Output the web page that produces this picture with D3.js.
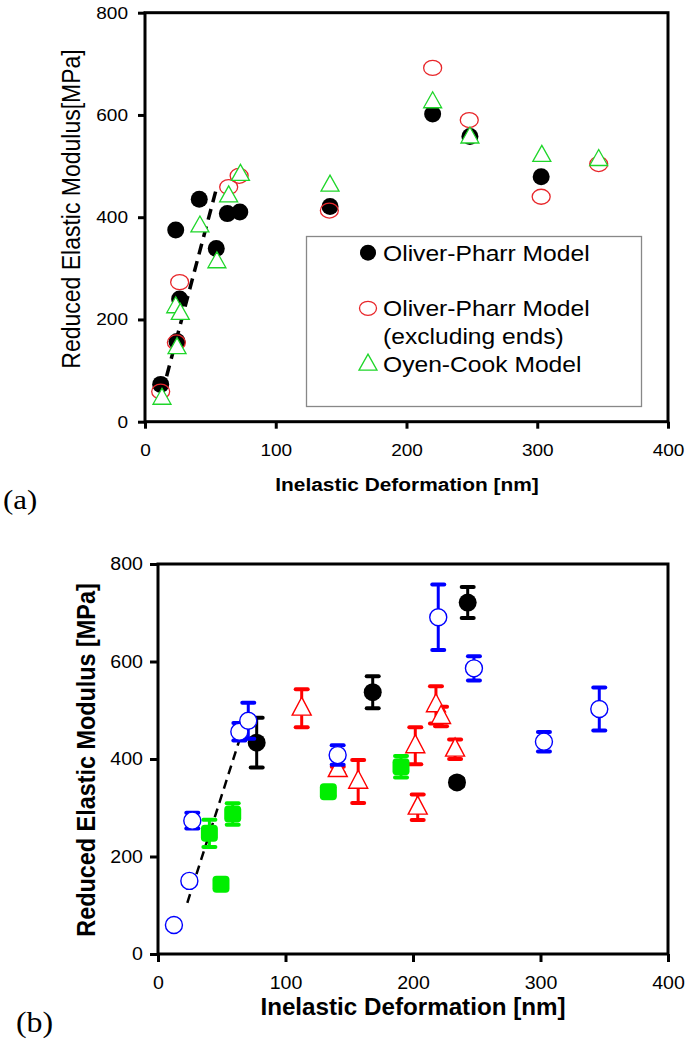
<!DOCTYPE html>
<html>
<head>
<meta charset="utf-8">
<script src="https://cdn.jsdelivr.net/npm/d3@7"></script>
<style>
  body { margin: 0; background: #fff; }
  svg text { font-family: "Liberation Sans", Arial, sans-serif; }
</style>
</head>
<body>
<svg width="687" height="1057"></svg>
<script>
// ---- panel (a) ----
const opX = [12, 23.5, 24.5, 26.5, 41.5, 54.5, 63, 72.5, 141.5, 220, 248.5, 303]
const opY = [73, 375, 157, 240, 435, 339, 407, 410, 421, 602, 558, 479]
const opExX = [12, 24, 26.5, 64, 72, 141, 220, 248, 303, 347]
const opExY = [59, 155, 273, 459, 481, 413, 692, 590, 440, 504]
const ocX = [13, 24.5, 23.5, 27, 42, 55, 64, 73, 141.5, 220, 248.5, 303.5, 347]
const ocY = [46, 145, 225, 212, 383, 313, 442, 484, 463, 626, 557, 521, 513]
const fitA = [[13, 55], [54, 450]]
const legendLabels = [['Oliver-Pharr Model'], ['Oliver-Pharr Model', '(excluding ends)'], ['Oyen-Cook Model']]

// ---- panel (b) ----
const blueX = [12.5, 24.6, 26.9, 63.8, 70.8, 140.9, 219.8, 247.8, 302.7, 346.1]
const blueY = [59.5, 150, 273.5, 456, 478.6, 408, 690.7, 586, 435.6, 502.6]
const blueErr = [0, 0, 16, 18, 37, 20, 67, 25, 20, 44]
const blackX = [77.4, 168.4, 242.9, 234.5]
const blackY = [433.5, 537, 721, 352]
const blackErr = [51, 33, 32, 8]
const redX = [112.7, 141, 157, 201.8, 203.7, 218, 222, 233]
const redY = [504, 378, 354, 427, 301, 511, 487, 420]
const redErr = [39, 6, 44, 38, 26, 38, 20, 20]
const greenX = [40.3, 49.4, 58.6, 133.6, 190.6]
const greenY = [247.5, 143, 287, 333, 384]
const greenErr = [28, 8, 22, 8, 22]
const fitB = [[23, 105], [64, 440]]

const xTicks = [0, 100, 200, 300, 400]
const yTicks = [0, 200, 400, 600, 800]

// het origineel is horizontaal iets uitgerekt
const stretch = 1.12

const svg = d3.select('svg')

const zip = (xs, ys, es) => xs.map((x, i) => ({x: x, y: ys[i], e: es ? es[i] : 0}))

// driehoek rond middelpunt
const tri = (w, h) => `M0,${-h * 0.62}L${w / 2},${h * 0.38}L${-w / 2},${h * 0.38}Z`

// tekst met horizontale rek
function label(g, x, y, t, size, opts = {}) {
    const rot = opts.rotate ? ' rotate(-90)' : ''
    return g.append('text')
        .attr('transform', `translate(${x},${y}) scale(${opts.sx || stretch},1)${rot}`)
        .attr('text-anchor', opts.anchor || 'start')
        .attr('font-size', size)
        .attr('font-weight', opts.bold ? 'bold' : null)
        .text(t)
}

function styleTicks(a, fs) {
    a.select('.domain').remove()
    a.selectAll('line').attr('stroke-width', 3)
    a.selectAll('text')
        .attr('font-size', fs)
        .attr('font-family', '"Liberation Sans", Arial')
        .attr('x', function () { return (+this.getAttribute('x') || 0) / stretch })
        .attr('transform', `scale(${stretch},1)`)
}

function frame(g, x, y, o) {
    g.append('g')
        .attr('transform', `translate(0,${y.range()[0]})`)
        .call(d3.axisBottom(x).tickValues(xTicks).tickSize(o.tick).tickSizeOuter(0).tickPadding(o.xpad))
        .call(a => styleTicks(a, o.fs))
    g.append('g')
        .attr('transform', `translate(${x.range()[0]},0)`)
        .call(d3.axisLeft(y).tickValues(yTicks).tickSize(o.tick).tickSizeOuter(0).tickPadding(o.ypad))
        .call(a => styleTicks(a, o.fs))
    g.append('rect')
        .attr('x', x.range()[0]).attr('y', y.range()[1])
        .attr('width', x.range()[1] - x.range()[0])
        .attr('height', y.range()[0] - y.range()[1])
        .attr('fill', 'none').attr('stroke', '#000').attr('stroke-width', 3)
}

// ===== panel (a) =====
const xa = d3.scaleLinear().domain([0, 400]).range([145, 668])
const ya = d3.scaleLinear().domain([0, 800]).range([421.7, 12.7])
const ga = svg.append('g')

frame(ga, xa, ya, {tick: 7, xpad: 15, ypad: 10, fs: 17})

ga.append('line')
    .attr('x1', xa(fitA[0][0])).attr('y1', ya(fitA[0][1]))
    .attr('x2', xa(fitA[1][0])).attr('y2', ya(fitA[1][1]))
    .attr('stroke', '#000').attr('stroke-width', 3.5).attr('stroke-dasharray', '11,7')

ga.selectAll('.op').data(zip(opX, opY)).enter().append('circle')
    .attr('cx', d => xa(d.x)).attr('cy', d => ya(d.y)).attr('r', 8.5).attr('fill', '#000')

ga.selectAll('.opex').data(zip(opExX, opExY)).enter().append('ellipse')
    .attr('cx', d => xa(d.x)).attr('cy', d => ya(d.y)).attr('rx', 9).attr('ry', 7.5)
    .attr('fill', 'none').attr('stroke', '#e8262a').attr('stroke-width', 1.3)

ga.selectAll('.oc').data(zip(ocX, ocY)).enter().append('path')
    .attr('transform', d => `translate(${xa(d.x)},${ya(d.y)})`)
    .attr('d', tri(18, 16)).attr('fill', '#fff').attr('stroke', '#1fd62a').attr('stroke-width', 1.3)

// legenda
const lg = ga.append('g')
lg.append('rect').attr('x', 306.5).attr('y', 236.5).attr('width', 335).attr('height', 170)
    .attr('fill', '#fff').attr('stroke', '#888').attr('stroke-width', 1.3)
const legY = [252.7, 308.3, 364]
lg.append('circle').attr('cx', 368).attr('cy', legY[0]).attr('r', 8).attr('fill', '#000')
lg.append('ellipse').attr('cx', 368).attr('cy', legY[1]).attr('rx', 8.5).attr('ry', 7)
    .attr('fill', 'none').attr('stroke', '#e8262a').attr('stroke-width', 1.3)
lg.append('path').attr('transform', `translate(368,${legY[2]})`).attr('d', tri(18, 16))
    .attr('fill', 'none').attr('stroke', '#1fd62a').attr('stroke-width', 1.3)
legendLabels.forEach((lines, i) => {
    lines.forEach((t, j) => {
        label(lg, 383, legY[i] + 8 + j * 27.5, t, 22)
    })
})

label(ga, 407, 491, 'Inelastic Deformation [nm]', 19, {anchor: 'middle', bold: true, sx: 1.1})
label(ga, 80, 209, 'Reduced Elastic Modulus[MPa]', 23, {anchor: 'middle', rotate: true})
label(svg, 3, 509, '(a)', 28, {sx: 1.1})
    .style('font-family', '"Liberation Serif", "Times New Roman", serif')

// ===== panel (b) =====
const xb = d3.scaleLinear().domain([0, 400]).range([158, 668])
const yb = d3.scaleLinear().domain([0, 800]).range([954, 564])
const gb = svg.append('g')

frame(gb, xb, yb, {tick: 8, xpad: 15, ypad: 7, fs: 17.5})

gb.append('line')
    .attr('x1', xb(fitB[0][0])).attr('y1', yb(fitB[0][1]))
    .attr('x2', xb(fitB[1][0])).attr('y2', yb(fitB[1][1]))
    .attr('stroke', '#000').attr('stroke-width', 2.5).attr('stroke-dasharray', '9,6')

function errorBars(data, color) {
    const eb = gb.append('g').attr('stroke', color).attr('stroke-width', 3)
    data.filter(d => d.e > 0).forEach(d => {
        const cx = xb(d.x)
        eb.append('line').attr('x1', cx).attr('x2', cx).attr('y1', yb(d.y - d.e)).attr('y2', yb(d.y + d.e))
        ;[d.y - d.e, d.y + d.e].forEach(v => {
            eb.append('line').attr('x1', cx - 6).attr('x2', cx + 6).attr('y1', yb(v)).attr('y2', yb(v))
                .attr('stroke-width', 4).attr('stroke-linecap', 'round')
        })
    })
}

const blackData = zip(blackX, blackY, blackErr)
const blueData = zip(blueX, blueY, blueErr)
const redData = zip(redX, redY, redErr)
const greenData = zip(greenX, greenY, greenErr)

errorBars(blackData, '#000')
gb.selectAll('.bk').data(blackData).enter().append('circle')
    .attr('cx', d => xb(d.x)).attr('cy', d => yb(d.y)).attr('r', 9).attr('fill', '#000')

errorBars(redData, '#ff0000')
gb.selectAll('.rd').data(redData).enter().append('path')
    .attr('transform', d => `translate(${xb(d.x)},${yb(d.y)})`)
    .attr('d', tri(19, 18)).attr('fill', '#fff').attr('stroke', '#ff0000').attr('stroke-width', 1.4)

errorBars(greenData, '#00ee00')
gb.selectAll('.gr').data(greenData).enter().append('rect')
    .attr('x', d => xb(d.x) - 8.5).attr('y', d => yb(d.y) - 8.5)
    .attr('width', 17).attr('height', 17).attr('rx', 4).attr('fill', '#00ee00')

errorBars(blueData, '#0000ff')
gb.selectAll('.bl').data(blueData).enter().append('circle')
    .attr('cx', d => xb(d.x)).attr('cy', d => yb(d.y)).attr('r', 8.5)
    .attr('fill', '#fff').attr('stroke', '#0000ff').attr('stroke-width', 1.4)

label(gb, 413, 1015, 'Inelastic Deformation [nm]', 23.5, {anchor: 'middle', bold: true, sx: 1.03})
label(gb, 95, 760, 'Reduced Elastic Modulus [MPa]', 23.4, {anchor: 'middle', bold: true, rotate: true, sx: 1.08})
label(svg, 16, 1032, '(b)', 29, {sx: 1.1})
    .style('font-family', '"Liberation Serif", "Times New Roman", serif')
</script>
</body>
</html>
